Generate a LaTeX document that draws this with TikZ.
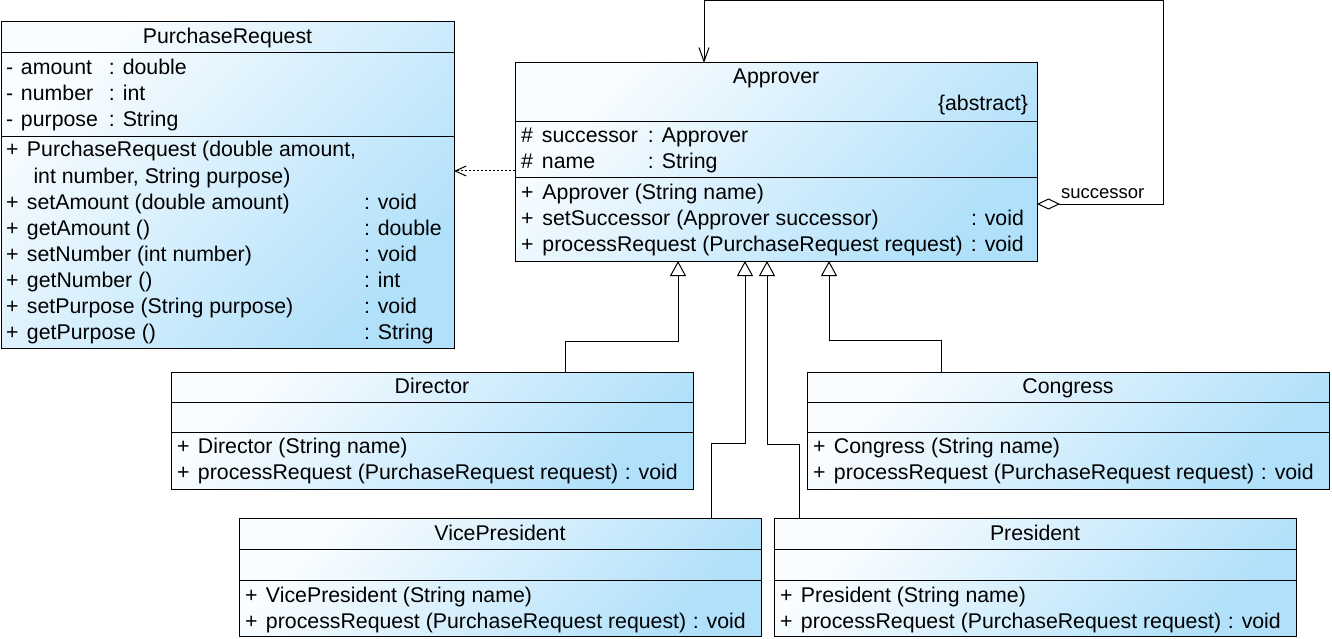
\documentclass[tikz,border=0pt]{standalone}
\usepackage{fontspec}
\setmainfont{Liberation Sans}
\usetikzlibrary{arrows.meta}
\definecolor{cTop}{RGB}{250,253,255}
\definecolor{cBot}{RGB}{176,224,250}
\newcommand{\fsmain}{\fontsize{21.3}{26}\selectfont}
\newcommand{\fslbl}{\fontsize{18.5}{22}\selectfont}
\newcommand{\umlclass}[7]{%
  \node[classbox, minimum width={#4-#2}, minimum height={#5-#3}, anchor=north west] (#1) at (#2,#3) {};
  \draw[sepline] (#2,#6) -- (#4,#6);
  \draw[sepline] (#2,#7) -- (#4,#7);
}
\tikzset{
  classbox/.style={draw=black, line width=1pt, top color=cTop, bottom color=cBot, shading angle=45, inner sep=0pt, outer sep=0pt},
  sepline/.style={draw=black, line width=1pt},
  txt/.style={font=\fsmain, inner sep=0pt, outer sep=0pt, anchor=base west},
  hdr/.style={txt, anchor=base},
  lbl/.style={font=\fslbl, inner sep=0pt, outer sep=0pt, anchor=base west},
  conn/.style={draw=black, line width=1pt},
  gen/.style={conn, -{Triangle[open, length=15pt, width=16pt]}},
  depend/.style={conn, dash pattern=on 2pt off 2pt, -{Straight Barb[length=11pt, width=10pt]}},
  aggr/.style={conn, {Diamond[open, length=23pt, width=11pt]}-{Straight Barb[length=14pt, width=10pt]}},
}
\begin{document}
\begin{tikzpicture}[x=1pt, y=-1pt]
\useasboundingbox (0,0) rectangle (1332,639);

% ---------- classes ----------
\umlclass{pr}{1}{22}{454}{348}{53}{137}
\umlclass{ap}{515}{63}{1037}{261}{122}{178}
\umlclass{di}{171}{372}{693}{489}{402}{432}
\umlclass{co}{807}{372}{1329}{489}{402}{432}
\umlclass{vp}{239}{518}{761}{636}{549}{580}
\umlclass{pe}{774}{518}{1296}{636}{549}{580}

% PurchaseRequest
\node[hdr] (pr-n) at (227.5,44) {PurchaseRequest};
\node[txt] (pr-a1) at (6,75) {\makebox[15pt][l]{-}\makebox[88pt][l]{amount}: double};
\node[txt] (pr-a2) at (6,101) {\makebox[15pt][l]{-}\makebox[88pt][l]{number}: int};
\node[txt] (pr-a3) at (6,127) {\makebox[15pt][l]{-}\makebox[88pt][l]{purpose}: String};
\node[txt] (pr-m1) at (6,157) {\makebox[21pt][l]{+}PurchaseRequest (double amount,};
\node[txt] (pr-m1b) at (33.5,183) {int number, String purpose)};
\node[txt] (pr-m2) at (6,209) {\makebox[21pt][l]{+}\makebox[337pt][l]{setAmount (double amount)}: void};
\node[txt] (pr-m3) at (6,235) {\makebox[21pt][l]{+}\makebox[337pt][l]{getAmount ()}: double};
\node[txt] (pr-m4) at (6,261) {\makebox[21pt][l]{+}\makebox[337pt][l]{setNumber (int number)}: void};
\node[txt] (pr-m5) at (6,287) {\makebox[21pt][l]{+}\makebox[337pt][l]{getNumber ()}: int};
\node[txt] (pr-m6) at (6,313) {\makebox[21pt][l]{+}\makebox[337pt][l]{setPurpose (String purpose)}: void};
\node[txt] (pr-m7) at (6,339) {\makebox[21pt][l]{+}\makebox[337pt][l]{getPurpose ()}: String};

% Approver
\node[hdr] (ap-n) at (776,84) {Approver};
\node[txt, anchor=base east] (ap-s) at (1028,111) {\{abstract\}};
\node[txt] (ap-a1) at (521,143) {\makebox[21pt][l]{\#}\makebox[106pt][l]{successor}: Approver};
\node[txt] (ap-a2) at (521,169) {\makebox[21pt][l]{\#}\makebox[106pt][l]{name}: String};
\node[txt] (ap-m1) at (521,199) {\makebox[21.5pt][l]{+}Approver (String name)};
\node[txt] (ap-m2) at (521,225) {\makebox[21.5pt][l]{+}\makebox[428.5pt][l]{setSuccessor (Approver successor)}: void};
\node[txt] (ap-m3) at (521,251) {\makebox[21.5pt][l]{+}\makebox[428.5pt][l]{processRequest (PurchaseRequest request)}: void};

% Director
\node[hdr] (di-n) at (432,393) {Director};
\node[txt] (di-m1) at (177,453) {\makebox[21pt][l]{+}Director (String name)};
\node[txt] (di-m2) at (177,479) {\makebox[21pt][l]{+}\makebox[427pt][l]{processRequest (PurchaseRequest request)}: void};

% Congress
\node[hdr] (co-n) at (1068,393) {Congress};
\node[txt] (co-m1) at (813,453) {\makebox[21pt][l]{+}Congress (String name)};
\node[txt] (co-m2) at (813,479) {\makebox[21pt][l]{+}\makebox[427pt][l]{processRequest (PurchaseRequest request)}: void};

% VicePresident
\node[hdr] (vp-n) at (500,540) {VicePresident};
\node[txt] (vp-m1) at (245,602) {\makebox[21pt][l]{+}VicePresident (String name)};
\node[txt] (vp-m2) at (245,628) {\makebox[21pt][l]{+}\makebox[427pt][l]{processRequest (PurchaseRequest request)}: void};

% President
\node[hdr] (pe-n) at (1035,540) {President};
\node[txt] (pe-m1) at (780,602) {\makebox[21pt][l]{+}President (String name)};
\node[txt] (pe-m2) at (780,628) {\makebox[21pt][l]{+}\makebox[427pt][l]{processRequest (PurchaseRequest request)}: void};

% ---------- connectors ----------
\coordinate (dep) at (0,171);
\draw[depend] (ap.west |- dep) -- (pr.east |- dep);

\coordinate (l1) at (1163,204);
\coordinate (l2) at (1163,1);
\coordinate (l3) at (704,1);
\draw[aggr] (ap.east |- l1) -- (l1) -- (l2) -- (l3) -- (ap.north -| l3);
\node[lbl] (lab) at (1061,198) {successor};

\coordinate (g1a) at (565,341); \coordinate (g1b) at (678,341);
\draw[gen] (di.north -| g1a) -- (g1a) -- (g1b) -- (ap.south -| g1b);
\coordinate (g2a) at (711,443); \coordinate (g2b) at (745,443);
\draw[gen] (vp.north -| g2a) -- (g2a) -- (g2b) -- (ap.south -| g2b);
\coordinate (g3a) at (799,444); \coordinate (g3b) at (767,444);
\draw[gen] (pe.north -| g3a) -- (g3a) -- (g3b) -- (ap.south -| g3b);
\coordinate (g4a) at (941,340); \coordinate (g4b) at (829,340);
\draw[gen] (co.north -| g4a) -- (g4a) -- (g4b) -- (ap.south -| g4b);
\end{tikzpicture}
\end{document}
